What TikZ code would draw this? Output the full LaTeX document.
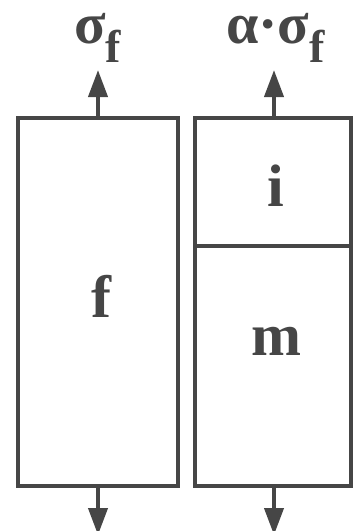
\documentclass[tikz,border=0pt]{standalone}
\usepackage{fontspec}
\setmainfont{Liberation Serif}
\usetikzlibrary{arrows.meta}
\definecolor{ink}{HTML}{464646}
\newcommand{\subf}{\raisebox{-19pt}{\fontsize{46}{46}\selectfont f}}
\begin{document}
\begin{tikzpicture}[x=1pt, y=-1pt,
        cell/.style={draw=ink, line width=4pt, inner sep=0pt, minimum width=156pt},
        tag/.style={text=ink, inner sep=0pt, anchor=base, font=\fontsize{60}{60}\selectfont\bfseries},
        stress/.style={text=ink, inner sep=0pt, anchor=base west, text height=30pt, font=\fontsize{58}{58}\selectfont\bfseries},
        load/.style={draw=ink, line width=4pt, -{Triangle[width=19pt, length=27pt]}}]
    \useasboundingbox (0,0) rectangle (354,531);
    % fibre
    \node[cell, minimum width=160pt, minimum height=368pt] (fiber) at (98,302) {};
    \node[tag] (ftext) at (101,317) {f};
    % interphase and matrix
    \node[cell, minimum height=128pt] (inter) at (273,182) {};
    \node[cell, minimum height=240pt] (matrix) at (273,366) {};
    \node[tag] (itext) at (276,206) {i};
    \node[tag] (mtext) at (276,355) {m};
    % loads
    \coordinate (ftop) at (98,70);
    \coordinate (fbot) at (98,535);
    \coordinate (itop) at (274,70);
    \coordinate (mbot) at (274,535);
    \draw[load] (fiber.north) -- (ftop);
    \draw[load] (fiber.south) -- (fbot);
    \draw[load] (inter.north -| itop) -- (itop);
    \draw[load] (matrix.south -| mbot) -- (mbot);
    \node[stress] (sfib) at (74,43) {σ\subf};
    \node[stress] (smat) at (226,43) {α·σ\subf};
\end{tikzpicture}
\end{document}
